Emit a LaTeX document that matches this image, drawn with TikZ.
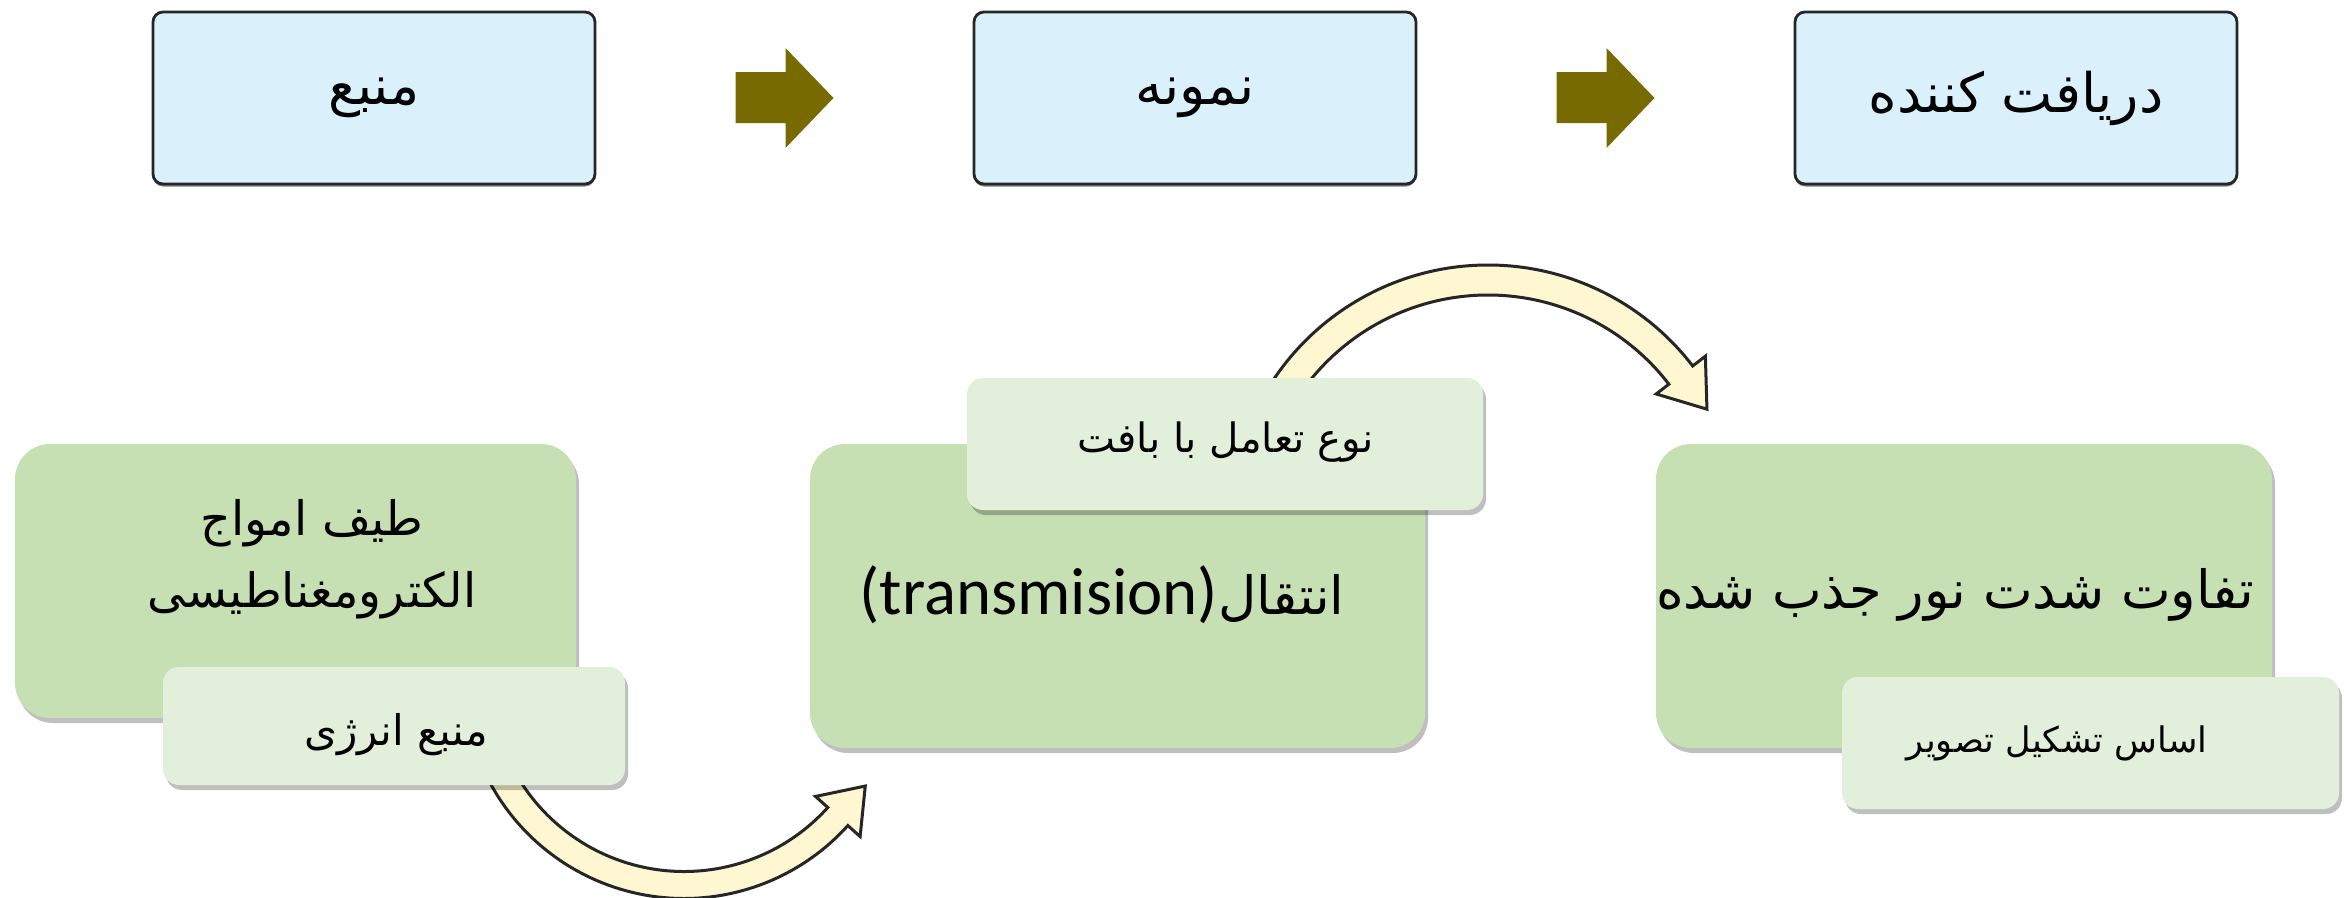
\documentclass[tikz,border=0pt]{standalone}
\usepackage{fontspec}
\newfontfamily\fa[Script=Arabic]{DejaVu Sans}
\newfontfamily\lat{Carlito}
\TeXXeTstate=1
\usetikzlibrary{calc,shadows}
\definecolor{topblue}{HTML}{DAF1FC}
\definecolor{boxgreen}{HTML}{C6E0B4}
\definecolor{lightgreen}{HTML}{E2EFDA}
\definecolor{olivearrow}{HTML}{766A00}
\definecolor{creamarrow}{HTML}{FFF7D1}
\definecolor{boxline}{HTML}{262626}
\tikzset{
  topbox/.style={draw=boxline, line width=0.28mm, fill=topblue, rounded corners=1mm,
    minimum width=44.2mm, minimum height=17.2mm, inner sep=0pt,
    drop shadow={shadow xshift=0mm, shadow yshift=-0.25mm, opacity=0.5, fill=black},
    font=\fa\fontsize{15.5}{18}\selectfont},
  greenbox/.style={fill=boxgreen, draw=none, rounded corners=3.5mm, inner sep=0pt,
    drop shadow={shadow xshift=0.3mm, shadow yshift=-0.5mm, opacity=0.25, fill=black}},
  lightbox/.style={fill=lightgreen, draw=none, rounded corners=1.6mm, inner sep=0pt,
    drop shadow={shadow xshift=0.3mm, shadow yshift=-0.5mm, opacity=0.25, fill=black}},
  bigtext/.style={font=\fa\fontsize{15}{19.6}\selectfont, align=center},
  smalltext/.style={font=\fa\fontsize{11.5}{14}\selectfont},
  blockarrow/.style={fill=olivearrow, draw=none},
  curvearrow/.style={fill=creamarrow, draw=boxline, line width=0.3mm, line join=miter}
}
\begin{document}
\begin{tikzpicture}[x=1mm,y=1mm]
\useasboundingbox (0,0) rectangle (234.4,-89.8);

% top row
\node[topbox] (t1) at (37.4,-9.8) {\beginR منبع\endR};
\node[topbox] (t2) at (119.5,-9.8) {\beginR نمونه\endR};
\node[topbox] (t3) at (201.6,-9.8) {\beginR دریافت کننده\endR};

\coordinate (m1) at ($(t1.east)!0.5!(t2.west)$);
\coordinate (m2) at ($(t2.east)!0.5!(t3.west)$);
\foreach \m in {m1,m2}{
  \fill[blockarrow] ($(\m)+(-4.9,2.6)$) -- ($(\m)+(0.1,2.6)$) -- ($(\m)+(0.1,5)$)
    -- ($(\m)+(4.9,0)$) -- ($(\m)+(0.1,-5)$) -- ($(\m)+(0.1,-2.5)$)
    -- ($(\m)+(-4.9,-2.5)$) -- cycle;
}

% green boxes
\node[greenbox, minimum width=56.1mm, minimum height=27.4mm] (g1) at (29.55,-58.1) {};
\node[greenbox, minimum width=61.5mm, minimum height=30.4mm] (g2) at (111.75,-59.6) {};
\node[greenbox, minimum width=61.6mm, minimum height=30.4mm] (g3) at (196.4,-59.6) {};

\node[bigtext, font=\fa\fontsize{13.5}{20.6}\selectfont] (g1t) at (31.2,-55.9) {\beginR طیف امواج\endR\\\beginR الکترومغناطیسی\endR};
\node[bigtext] (g2t) at (110.2,-59.5) {{\lat\fontsize{19}{22}\selectfont (transmision)}\beginR انتقال\endR};
\node[bigtext] (g3t) at (195.5,-59.5) {\beginR تفاوت شدت نور جذب شده\endR};

% curved arrows
\coordinate (c1) at (68.4,-67.8);
\draw[curvearrow] ($(c1)+(205:22.05mm)$) arc[start angle=205, end angle=318, radius=22.05mm]
  -- ($(c1)+(318:23.7mm)$)
  -- ($(c1)+(318:20.7mm)+(48:4.1mm)$)
  -- ($(c1)+(318:17.7mm)$)
  -- ($(c1)+(318:19.35mm)$)
  arc[start angle=318, end angle=205, radius=19.35mm] -- cycle;

\coordinate (c2) at (148.8,-52.3);
\draw[curvearrow] ($(c2)+(150:25.8mm)$) arc[start angle=150, end angle=37.5, radius=25.8mm]
  -- ($(c2)+(37.5:27.4mm)$)
  -- ($(c2)+(37.5:24.3mm)+(-52.5:4.3mm)$)
  -- ($(c2)+(37.5:21.2mm)$)
  -- ($(c2)+(37.5:22.8mm)$)
  arc[start angle=37.5, end angle=150, radius=22.8mm] -- cycle;

% light boxes
\node[lightbox, minimum width=46.2mm, minimum height=11.8mm] (l1) at (39.4,-72.6) {};
\node[lightbox, minimum width=51.6mm, minimum height=13.2mm] (l2) at (122.5,-44.4) {};
\node[lightbox, minimum width=49.7mm, minimum height=13.2mm] (l3) at (209.05,-74.3) {};

\node[smalltext, font=\fa\fontsize{12}{14}\selectfont] (l1t) at (39.6,-73.5) {\beginR منبع انرژی\endR};
\node[smalltext] (l2t) at (122.6,-44.2) {\beginR نوع تعامل با بافت\endR};
\node[smalltext, font=\fa\fontsize{10}{14}\selectfont] (l3t) at (205.7,-74.3) {\beginR اساس تشکیل تصویر\endR};
\end{tikzpicture}
\end{document}
